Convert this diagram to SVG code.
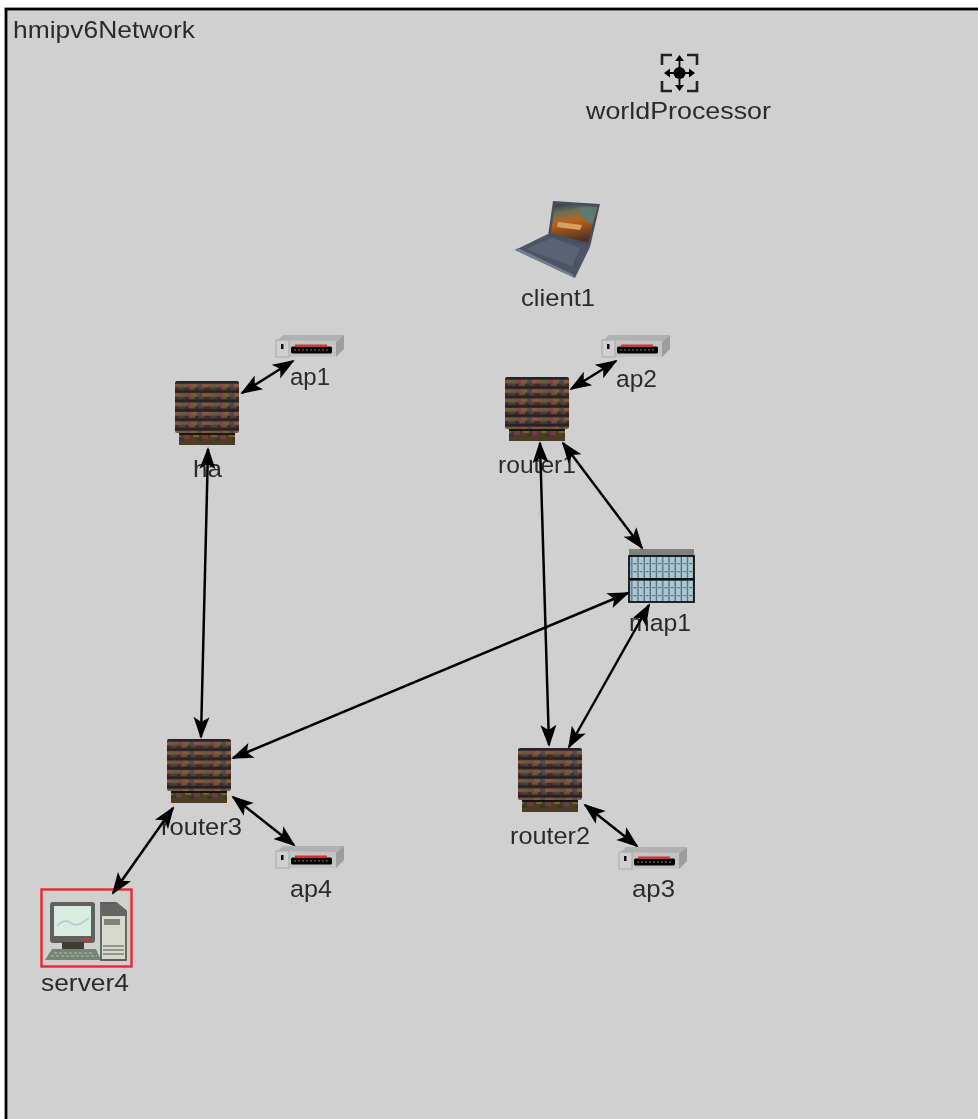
<svg xmlns="http://www.w3.org/2000/svg" width="978" height="1119" viewBox="0 0 978 1119">
<style>
text{font-family:"Liberation Sans",Arial,sans-serif;font-size:24.5px;fill:#2c2c2c}
.edge{fill:none;stroke:#000;stroke-width:2.5;marker-start:url(#head);marker-end:url(#head)}
</style>
<defs>
<filter id="soft" filterUnits="userSpaceOnUse" x="0" y="0" width="978" height="1119"><feGaussianBlur stdDeviation="0.6"/></filter>
<marker id="head" markerUnits="userSpaceOnUse" markerWidth="24" markerHeight="20" refX="21" refY="10" orient="auto-start-reverse"><path d="M23,10 L1,2 L6,10 L1,18 Z" fill="#000"/></marker>
<pattern id="brick" patternUnits="userSpaceOnUse" width="32" height="9.4">
<rect width="32" height="9.4" fill="#3e2e2a"/>
<rect y="0" width="32" height="2.200" fill="#26222a"/>
<rect x="0" y="2.800" width="5" height="3.600" fill="#84543a"/><rect x="5" y="2.800" width="6" height="3.600" fill="#626038"/><rect x="11" y="2.800" width="5" height="3.600" fill="#88424a"/><rect x="16" y="2.800" width="6" height="3.600" fill="#7a6038"/><rect x="22" y="2.800" width="5" height="3.600" fill="#544852"/><rect x="27" y="2.800" width="5" height="3.600" fill="#8a583c"/>
<rect x="3" y="6.600" width="7" height="2" fill="#503a44"/><rect x="14" y="6.600" width="6" height="2" fill="#68523a"/><rect x="24" y="6.600" width="5" height="2" fill="#444a38"/>
</pattern>
<pattern id="brickbase" patternUnits="userSpaceOnUse" width="18" height="12">
<rect width="18" height="12" fill="#4e3c24"/>
<rect x="0" y="4" width="6" height="4" fill="#72602e"/><rect x="9" y="6" width="6" height="4" fill="#6a3c48"/><rect x="4" y="9" width="5" height="3" fill="#3a3430"/>
</pattern>
<pattern id="rack" patternUnits="userSpaceOnUse" width="6.2" height="8">
<rect width="6.2" height="8" fill="#a8c8d4"/><rect x="5" width="1.200" height="8" fill="#4e626e"/><rect x="1" y="3" width="3" height="1.200" fill="#5e7682"/>
</pattern>
<linearGradient id="scr" x1="0" y1="0" x2="0.2" y2="1"><stop offset="0" stop-color="#2e3a34"/><stop offset="0.25" stop-color="#6a7058"/><stop offset="0.5" stop-color="#b8641f"/><stop offset="0.75" stop-color="#8a4a1e"/><stop offset="1" stop-color="#4e3424"/></linearGradient>
<g id="router">
<rect x="4" y="50" width="56" height="14" fill="url(#brickbase)"/><rect x="4" y="51" width="56" height="3" fill="#141210"/>
<rect x="0" y="0" width="64" height="52" rx="2" fill="url(#brick)"/>
</g>
<g id="ap">
<path d="M2,6 L7,0 H68 V14 L60,22 H0 V6 Z" fill="#c4c4c4"/>
<path d="M60,7 L68,0 V14 L60,22 Z" fill="#9a9e9e"/>
<path d="M2,5 L7,0 H68 L61,6 Z" fill="#b0b0b0"/>
<rect x="0" y="5" width="13" height="17" fill="#d0d0d0" stroke="#a8a8a8" stroke-width="1"/>
<rect x="5" y="9" width="2.500" height="5" fill="#111"/>
<rect x="15" y="11.500" width="41" height="7" rx="1.500" fill="#050505"/>
<rect x="19" y="9.500" width="32" height="2.600" fill="#d03038"/>
<path d="M18,15 H54" stroke="#555" stroke-width="1.400" stroke-dasharray="2 2"/>
</g>
</defs>
<rect width="978" height="1119" fill="#fff"/>
<g filter="url(#soft)">
<rect x="6" y="9" width="980" height="1120" fill="#d0d0d0" stroke="#000" stroke-width="2.800"/>
<text id="title" x="13" y="38" textLength="182" lengthAdjust="spacingAndGlyphs">hmipv6Network</text>

<g id="worldProcessor">
<g fill="none" stroke="#222" stroke-width="2.600"><path d="M662,65 V55 H672"/><path d="M687,55 H697 V65"/><path d="M662,81 V91 H672"/><path d="M687,91 H697 V81"/></g>
<circle cx="679.500" cy="73" r="6" fill="#000"/>
<path d="M679.500,55 l-4.500,6 h9z M679.500,91 l-4.500,-6 h9z M664,73 l6,-4.500 v9z M695,73 l-6,-4.500 v9z" fill="#000"/>
<path d="M679.500,58 V88 M666,73 H693" stroke="#000" stroke-width="1.800"/>
<text x="586" y="119" textLength="185" lengthAdjust="spacingAndGlyphs">worldProcessor</text>
</g>

<g id="client1">
<path d="M515,250 L550,233 L590,247 L575,278 Z" fill="#4c5566"/>
<path d="M526,249 L552,238 L580,248 L572,266 Z" fill="#5a6476"/>
<path d="M515,250 L575,278 L572,274 L518,248 Z" fill="#727c8c"/>
<path d="M553,201 L600,204 L590,247 L548,236 Z" fill="#46505e"/>
<path d="M555,204 L597,207 L588,243 L551,233 Z" fill="url(#scr)"/>
<path d="M558,222 L582,225 L580,230 L557,227 Z" fill="#d8a060"/>
<path d="M578,207 L597,208 L592,224 L582,218 Z" fill="#5c7a70"/>
<text x="521" y="306" textLength="74" lengthAdjust="spacingAndGlyphs">client1</text>
</g>

<g id="ha"><use href="#router" x="175" y="381"/><text x="193" y="477" textLength="29" lengthAdjust="spacingAndGlyphs">ha</text></g>
<g id="router1"><use href="#router" x="505" y="377"/><text x="498" y="473" textLength="78" lengthAdjust="spacingAndGlyphs">router1</text></g>
<g id="router2"><use href="#router" x="518" y="748"/><text x="510" y="844" textLength="80" lengthAdjust="spacingAndGlyphs">router2</text></g>
<g id="router3"><use href="#router" x="167" y="739"/><text x="161" y="835" textLength="81" lengthAdjust="spacingAndGlyphs">router3</text></g>

<g id="ap1"><use href="#ap" x="276" y="335"/><text x="290" y="385" textLength="40" lengthAdjust="spacingAndGlyphs">ap1</text></g>
<g id="ap2"><use href="#ap" x="602" y="335"/><text x="616" y="387" textLength="41" lengthAdjust="spacingAndGlyphs">ap2</text></g>
<g id="ap3"><use href="#ap" x="619" y="847"/><text x="632" y="897" textLength="43" lengthAdjust="spacingAndGlyphs">ap3</text></g>
<g id="ap4"><use href="#ap" x="276" y="846"/><text x="290" y="897" textLength="42" lengthAdjust="spacingAndGlyphs">ap4</text></g>

<g id="map1">
<rect x="629" y="549" width="65" height="8" fill="#808080"/>
<rect x="629" y="556" width="65" height="46" fill="url(#rack)" stroke="#111" stroke-width="1.800"/>
<rect x="629" y="578" width="65" height="2.600" fill="#111"/>
<text x="629" y="631" textLength="62" lengthAdjust="spacingAndGlyphs">map1</text>
</g>

<g id="server4">
<rect x="41.500" y="889.500" width="90" height="77" fill="none" stroke="#f0282e" stroke-width="2.400"/>
<rect x="50" y="902" width="45" height="41" rx="3" fill="#5e625c"/>
<rect x="54" y="906" width="37" height="30" fill="#d8ecdf"/>
<path d="M57,926 q8,-8 14,-3 t18,-5" fill="none" stroke="#a8c8d8" stroke-width="1.500"/>
<rect x="82" y="938" width="8" height="2.500" fill="#d83030"/>
<rect x="62" y="942" width="22" height="7" fill="#3c3e38"/>
<path d="M52,949 H96 L101,960 H45 Z" fill="#748676"/>
<path d="M54,953 H94 M51,956 H97" stroke="#aebcae" stroke-width="1.200" stroke-dasharray="3 2"/>
<path d="M101,903 H116 L126,911 V960 H101 Z" fill="#d8d8cc" stroke="#5c5e58" stroke-width="1.800"/>
<path d="M102,904 H116 L125,911 V916 H102 Z" fill="#62665f"/>
<rect x="104" y="919" width="16" height="6" fill="#808278"/>
<path d="M103,946 H124 M103,950 H124 M103,954 H124" stroke="#7c7e78" stroke-width="1.400"/>
<text x="41" y="991" textLength="88" lengthAdjust="spacingAndGlyphs">server4</text>
</g>

<g id="connectors">
<line class="edge" x1="242" y1="393" x2="293" y2="361"/>
<line class="edge" x1="571" y1="389" x2="616" y2="361"/>
<line class="edge" x1="208" y1="449" x2="201" y2="737"/>
<line class="edge" x1="540" y1="443" x2="549" y2="745"/>
<line class="edge" x1="563" y1="443" x2="642" y2="548"/>
<line class="edge" x1="628" y1="593" x2="233" y2="758"/>
<line class="edge" x1="649" y1="605" x2="569" y2="747"/>
<line class="edge" x1="233" y1="797" x2="294" y2="845"/>
<line class="edge" x1="173" y1="808" x2="113" y2="893"/>
<line class="edge" x1="585" y1="805" x2="637" y2="846"/>
</g>
</g>
</svg>
